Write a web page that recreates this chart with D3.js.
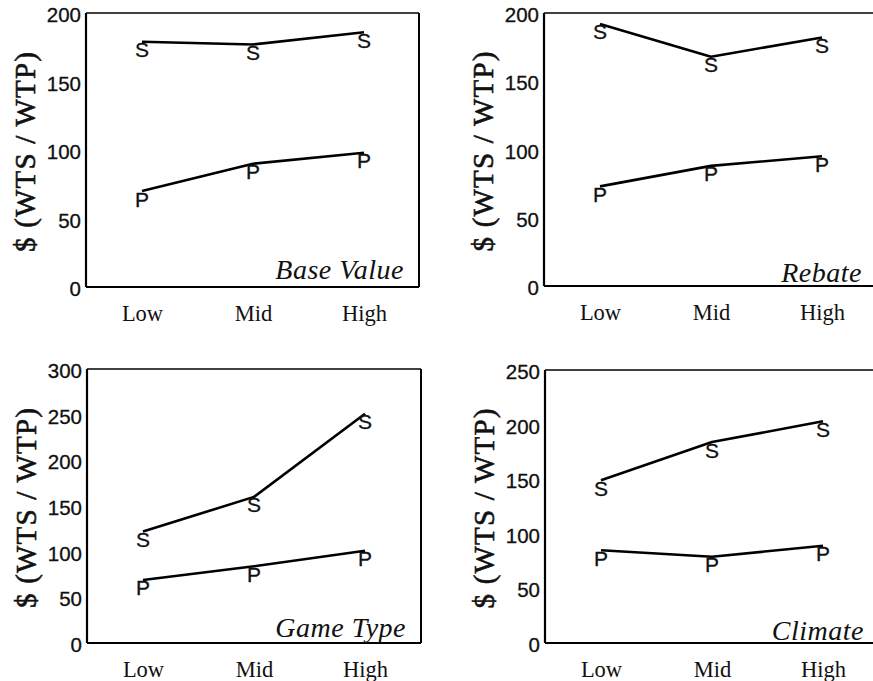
<!DOCTYPE html>
<html>
<head>
<meta charset="utf-8">
<script src="https://cdn.jsdelivr.net/npm/d3@7"></script>
<style>
  html, body { margin: 0; padding: 0; background: #fff; }
  svg { display: block; }
</style>
</head>
<body>
<svg id="chart" width="873" height="681"></svg>
<script>
// ---- data ----
const categories = ["Low", "Mid", "High"];
const panelTitles = ["Base Value", "Rebate", "Game Type", "Climate"];
const yMax = [200, 200, 300, 250];
const yTicks = [
  [0, 50, 100, 150, 200],
  [0, 50, 100, 150, 200],
  [0, 50, 100, 150, 200, 250, 300],
  [0, 50, 100, 150, 200, 250]
];
// S = WTS (sellers), P = WTP (buyers)
const sBase = [179, 177, 186];
const pBase = [70, 90, 98];
const sRebate = [192, 168, 182];
const pRebate = [73, 88, 95];
const sGame = [122, 160, 251];
const pGame = [69, 84, 101];
const sClimate = [149, 184, 203];
const pClimate = [85, 79, 89];
const seriesLetters = ["S", "P"];
const yAxisTitle = "$ (WTS / WTP)";

const panelSeries = [
  [sBase, pBase],
  [sRebate, pRebate],
  [sGame, pGame],
  [sClimate, pClimate]
];

// ---- layout ----
const frames = [
  {l: 86,  t: 13,  r: 419, b: 287, labelUp: 8},
  {l: 544, t: 13,  r: 877, b: 286, labelUp: 4},
  {l: 87,  t: 369, r: 421, b: 643, labelUp: 6.5},
  {l: 545, t: 370, r: 879, b: 643, labelUp: 3.5}
];

const svg = d3.select("#chart");
const sans = "'Liberation Sans', Arial, sans-serif";
const serif = "'Liberation Serif', 'Times New Roman', serif";

frames.forEach((f, i) => {
  const g = svg.append("g");
  const x = d3.scalePoint().domain(categories).range([f.l + 56, f.l + 278]);
  const y = d3.scaleLinear().domain([0, yMax[i]]).range([f.b, f.t]);

  // frame
  g.append("line").attr("x1", f.l).attr("x2", f.r).attr("y1", f.t).attr("y2", f.t)
    .attr("stroke", "#000").attr("stroke-width", 1.6);
  g.append("line").attr("x1", f.r).attr("x2", f.r).attr("y1", f.t).attr("y2", f.b)
    .attr("stroke", "#000").attr("stroke-width", 2);
  g.append("line").attr("x1", f.l).attr("x2", f.r).attr("y1", f.b).attr("y2", f.b)
    .attr("stroke", "#000").attr("stroke-width", 2.2);
  g.append("line").attr("x1", f.l).attr("x2", f.l).attr("y1", f.t).attr("y2", f.b)
    .attr("stroke", "#000").attr("stroke-width", 2.2);

  // y axis (labels only, via d3 axis)
  const yAxis = d3.axisLeft(y).tickValues(yTicks[i]).tickSize(0).tickPadding(5);
  const ya = g.append("g").attr("transform", `translate(${f.l},2)`).call(yAxis);
  ya.select(".domain").remove();
  ya.selectAll("text").attr("font-family", sans).attr("font-size", 20.5).attr("fill", "#111")
    .attr("stroke", "#111").attr("stroke-width", 0.3);

  // x axis labels
  const xAxis = d3.axisBottom(x).tickSize(0).tickPadding(18);
  const xa = g.append("g").attr("transform", `translate(0,${f.b})`).call(xAxis);
  xa.select(".domain").remove();
  xa.selectAll("text").attr("font-family", serif).attr("font-size", 22.5).attr("fill", "#111");

  // y axis title
  g.append("text")
    .attr("transform", `translate(${f.l - 61},${(f.t + f.b) / 2 + 2}) rotate(-90)`)
    .attr("text-anchor", "middle")
    .attr("dominant-baseline", "central")
    .attr("font-family", serif)
    .attr("font-size", 29)
    .attr("textLength", 200)
    .attr("lengthAdjust", "spacing")
    .attr("fill", "#111")
    .attr("stroke", "#111")
    .attr("stroke-width", 0.6)
    .text(yAxisTitle);

  // panel title
  g.append("text")
    .attr("x", f.r - 15)
    .attr("y", f.b - f.labelUp)
    .attr("text-anchor", "end")
    .attr("font-family", serif)
    .attr("font-style", "italic")
    .attr("font-size", 28)
    .attr("letter-spacing", 0.5)
    .attr("fill", "#111")
    .text(panelTitles[i]);

  // series
  const line = d3.line().x((d, k) => x(categories[k])).y(d => y(d));
  panelSeries[i].forEach((vals, si) => {
    g.append("path").datum(vals)
      .attr("d", line)
      .attr("fill", "none")
      .attr("stroke", "#000")
      .attr("stroke-width", 2.6)
      .attr("stroke-linejoin", "round");
    g.selectAll(null).data(vals).enter().append("text")
      .attr("x", (d, k) => x(categories[k]))
      .attr("y", d => y(d) + 15.5)
      .attr("text-anchor", "middle")
      .attr("font-family", sans)
      .attr("font-size", 21)
      .attr("fill", "#111")
      .attr("stroke", "#111")
      .attr("stroke-width", 0.3)
      .text(seriesLetters[si]);
  });
});
</script>
</body>
</html>
